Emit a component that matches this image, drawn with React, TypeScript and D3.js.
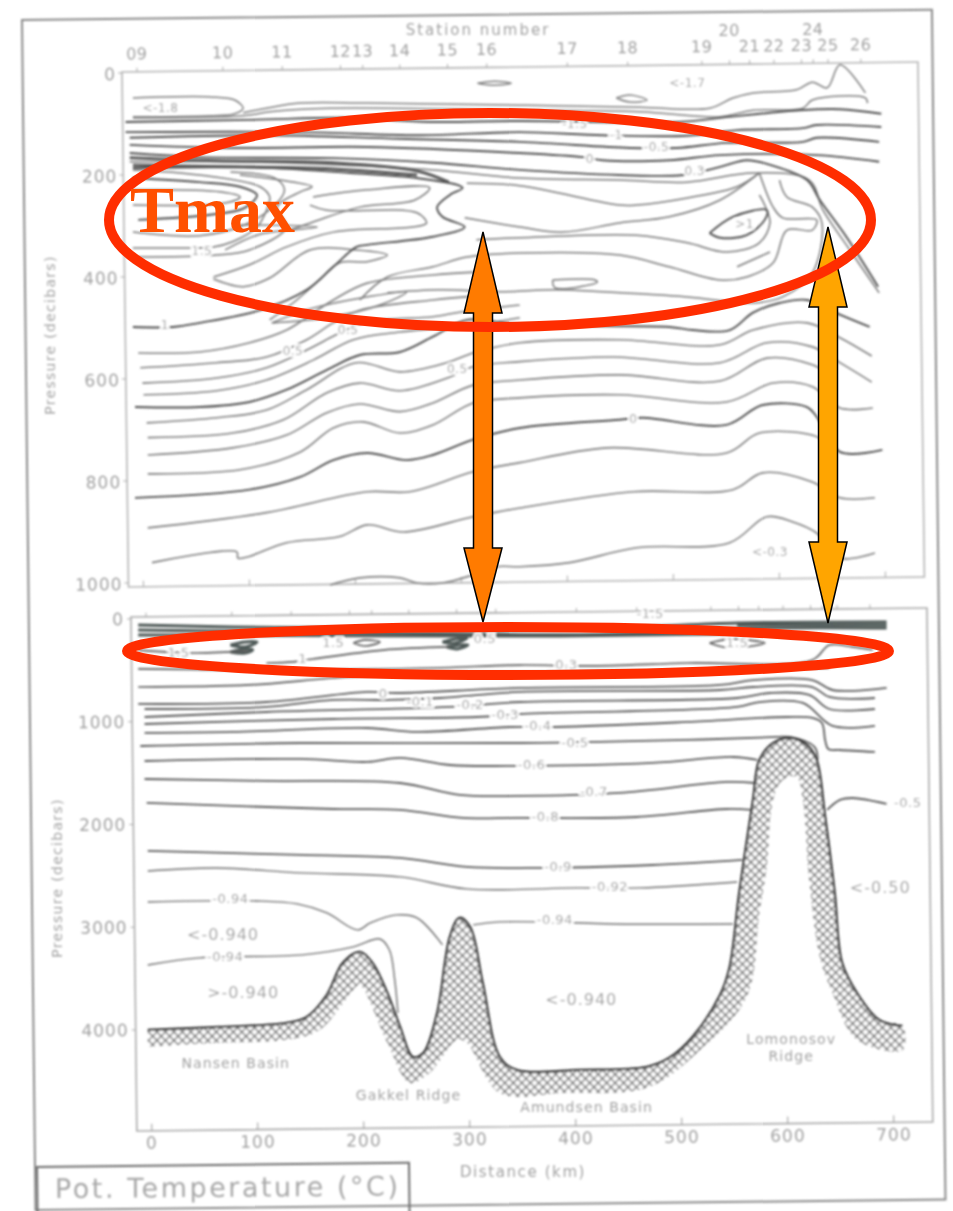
import React from 'react';
import * as d3 from 'd3';

type Pt = [number, number];

const kmTicks = [0, 100, 200, 300, 400, 500, 600, 700];
const topPressureTicks = [0, 200, 400, 600, 800, 1000];
const bottomPressureTicks = [0, 1000, 2000, 3000, 4000];
const stationNames = ['09', '10', '11', '12', '13', '14', '15', '16', '17', '18', '19', '20', '21', '22', '23', '24', '25', '26'];
const stationKm = [0, 81, 137, 192, 213, 248, 293, 330, 406, 463, 533, 559, 578, 601, 627, 638, 652, 683];

// upper panel, 0-1000 db
const topSurface: Pt[][] = [
  [[-18, 49], [55, 47], [78, 53], [86, 69], [78, 80], [55, 84], [-18, 86]],
  [[86, 78], [108, 69], [140, 59], [203, 59], [347, 63], [460, 67], [526, 69], [548, 49], [567, 39], [608, 33], [623, 18], [637, 29], [649, -16], [673, 39]],
  [[-18, 88], [86, 84], [111, 76], [168, 69], [347, 73], [460, 76], [536, 86], [567, 73], [614, 69], [623, 53], [673, 49], [675, 59]],
  [[307, 20], [323, 16], [339, 20], [323, 24], [307, 20]],
  [[438, 49], [451, 43], [467, 53], [451, 57], [438, 49]],
];
const topHeavy: Pt[][] = [
  [[-25, 96], [92, 92], [187, 88], [262, 96], [347, 94], [498, 96], [536, 88], [611, 73], [649, 71], [688, 80]],
  [[-25, 116], [140, 116], [253, 122], [347, 116], [425, 122], [505, 123], [552, 112], [614, 108], [627, 102], [688, 106]],
  [[-21, 127], [108, 122], [234, 129], [347, 135], [451, 147], [495, 147], [542, 137], [614, 135], [627, 127], [686, 135]],
  [[-21, 141], [76, 147], [203, 145], [347, 157], [406, 165], [425, 171], [488, 171], [536, 161], [627, 161], [686, 174]],
  [[-21, 157], [45, 165], [171, 167], [265, 176], [347, 190], [441, 200], [501, 200], [536, 184], [561, 171], [583, 180], [618, 210], [630, 249], [655, 321], [685, 419]],
  [[-18, 498], [20, 498], [45, 490], [102, 465], [146, 425], [171, 380], [193, 341], [203, 337], [265, 321], [295, 302], [274, 282], [269, 263], [281, 239], [293, 225], [250, 206], [187, 196], [108, 186], [-18, 180]],
  [[-18, 206], [45, 214], [83, 223], [99, 239], [87, 265], [55, 278], [-13, 288]],
  [[526, 314], [548, 282], [580, 269], [578, 288], [561, 318], [536, 323], [526, 314]],
  [[-16, 655], [45, 655], [92, 645], [127, 621], [165, 582], [196, 553], [234, 547], [265, 517], [297, 484], [347, 494], [488, 498], [510, 504], [545, 504], [567, 470], [592, 451], [618, 445], [649, 474], [677, 498]],
  [[-16, 833], [92, 817], [140, 792], [171, 759], [203, 745], [240, 759], [265, 749], [303, 719], [347, 696], [441, 680], [463, 676], [542, 690], [576, 651], [618, 655], [627, 674], [649, 743], [689, 739]],
];
// dark smear along the top of the warm layer, west of station 15
const topBandLeft: Pt[][] = [
  [[-21, 166], [60, 172], [171, 176], [250, 192], [280, 214]],
  [[-18, 186], [60, 184], [171, 188], [250, 200]],
];
const topTmax: Pt[][] = [
  [[-21, 174], [76, 174], [171, 180], [265, 190], [347, 206], [441, 210], [505, 214], [567, 196], [620, 210], [633, 269], [655, 337], [686, 431]],
  [[-18, 190], [45, 200], [102, 223], [111, 243], [108, 269], [99, 302], [76, 331], [58, 341], [29, 343], [-18, 343]],
  [[-18, 229], [64, 233], [83, 243], [69, 255], [-18, 259]],
  [[-18, 312], [45, 319], [87, 298], [116, 259], [125, 229], [116, 206], [74, 194]],
  [[-18, 361], [61, 357], [92, 347], [127, 302], [118, 263], [140, 233], [151, 223], [121, 210], [83, 200]],
  [[83, 298], [156, 302], [102, 316], [69, 347]],
  [[152, 243], [203, 229], [262, 225], [248, 249], [196, 263], [152, 292], [130, 308]],
  [[58, 400], [92, 376], [127, 341], [171, 312], [246, 302], [259, 294], [250, 274], [165, 269], [149, 259]],
  [[58, 404], [86, 419], [111, 402], [149, 347], [193, 347], [222, 357], [203, 370], [177, 372], [158, 406], [133, 451], [111, 484]],
  [[297, 216], [347, 221], [441, 259], [457, 259], [505, 245], [552, 223], [573, 196]],
  [[295, 284], [347, 302], [388, 312], [441, 294], [488, 282], [536, 249], [573, 196]],
  [[306, 327], [347, 323], [457, 318], [505, 333], [542, 351], [573, 333], [583, 294], [578, 259], [573, 239]],
  [[196, 445], [222, 400], [265, 380], [297, 361], [347, 353], [441, 357], [488, 380], [536, 406], [561, 400], [586, 372], [599, 308], [623, 308], [627, 288], [595, 284], [586, 263], [573, 196]],
  [[592, 210], [599, 243], [623, 263], [632, 294], [623, 392], [595, 439], [567, 451], [505, 439], [425, 429], [380, 425], [328, 429], [271, 425], [222, 431]],
  [[552, 380], [583, 351]],
  [[378, 406], [418, 406], [420, 410], [380, 421], [378, 406]],
  [[113, 490], [150, 462], [200, 440], [240, 430], [215, 455], [165, 480], [113, 490]],
];
const topDeep: Pt[][] = [
  [[-13, 549], [45, 547], [92, 529], [127, 504], [156, 465], [171, 445], [203, 412], [265, 396], [309, 390]],
  [[-11, 578], [61, 568], [108, 557], [146, 523], [171, 490], [196, 465], [265, 445], [309, 437]],
  [[-9, 608], [61, 598], [108, 578], [146, 543], [177, 510], [203, 488], [265, 478], [293, 468], [347, 455]],
  [[-8, 631], [61, 623], [108, 602], [152, 563], [190, 523], [234, 508], [303, 494], [347, 480]],
  [[-5, 686], [61, 676], [108, 661], [146, 621], [193, 568], [234, 586], [278, 568], [303, 549], [347, 529], [441, 523], [536, 533], [567, 504], [618, 490], [649, 519], [679, 555]],
  [[-4, 715], [76, 706], [124, 680], [165, 627], [196, 608], [234, 623], [281, 596], [303, 576], [347, 566], [435, 557], [536, 568], [580, 529], [623, 537], [649, 568], [679, 606]],
  [[-4, 749], [76, 735], [127, 710], [165, 666], [196, 649], [234, 664], [265, 647], [303, 612], [347, 602], [441, 592], [536, 604], [580, 559], [623, 572], [635, 586]],
  [[-4, 786], [83, 778], [140, 743], [171, 696], [199, 684], [234, 706], [265, 690], [303, 647], [347, 637], [441, 631], [542, 645], [586, 608], [623, 615], [649, 657], [680, 657]],
  [[-4, 892], [108, 862], [203, 821], [243, 821], [303, 782], [347, 764], [429, 735], [542, 745], [573, 706], [627, 713], [635, 729]],
  [[0, 960], [80, 939], [81, 951], [90, 949], [127, 921], [177, 909], [203, 886], [237, 900], [303, 870], [347, 853], [454, 821], [548, 817], [576, 784], [623, 802], [649, 833], [682, 833]],
  [[168, 1004], [196, 990], [234, 990], [250, 1000], [274, 1000], [303, 984], [325, 968], [347, 968], [394, 960], [457, 931], [545, 921], [580, 870], [604, 880], [627, 902], [649, 951], [682, 941]],
];

// lower panel, full depth
const bottomBands: Pt[][] = [
  [[-13, 58], [76, 78], [200, 90], [297, 107], [450, 80], [552, 39], [693, 29]],
  [[552, 60], [620, 58], [693, 58]],
  [[-13, 107], [140, 126], [297, 146], [420, 150], [583, 88], [693, 88]],
  [[-13, 156], [140, 160], [297, 165], [385, 165], [560, 140]],
  [[74, 253], [88, 224], [99, 224], [88, 272], [74, 253]],
  [[74, 321], [88, 292], [95, 302], [88, 331], [74, 321]],
  [[274, 224], [286, 195], [297, 185], [286, 234], [274, 224]],
  [[278, 272], [290, 253], [298, 253], [288, 292], [278, 272]],
];
const bottomUpper: Pt[][] = [
  [[190, 234], [201, 204], [215, 224], [201, 263], [190, 234]],
  [[526, 234], [545, 195], [578, 234], [545, 282], [526, 234]],
  [[-13, 302], [41, 331], [90, 311]],
  [[108, 428], [133, 418], [152, 389], [218, 302], [281, 272]],
  [[-13, 486], [140, 496], [265, 477], [347, 448], [410, 457], [505, 428], [623, 399], [639, 253], [661, 272], [680, 302]],
  [[-13, 662], [92, 642], [171, 574], [253, 525], [347, 516], [536, 496], [639, 477]],
];
const isothermZero: Pt[] = [[-13, 827], [108, 808], [203, 710], [231, 720], [347, 671], [536, 642], [567, 594], [623, 594], [642, 691], [693, 671]];
const isothermM01: Pt[] = [[-7, 876], [108, 856], [171, 788], [224, 788], [272, 769], [347, 710], [536, 691], [567, 662], [623, 662], [639, 759], [682, 769]];
const isothermM02: Pt[] = [[-7, 954], [108, 905], [281, 856], [347, 808], [552, 769], [583, 720], [620, 739], [639, 876], [682, 876]];
const isothermM03: Pt[] = [[-7, 1022], [171, 973], [306, 954], [350, 924], [552, 856], [573, 808], [614, 817], [642, 1041], [682, 1041]];
const isothermM04: Pt[] = [[-7, 1109], [76, 1099], [203, 1061], [250, 1099], [338, 1051], [382, 1051], [505, 1002], [599, 954], [623, 963], [632, 1012], [635, 1177], [638, 1265], [649, 1275], [682, 1294]];
const isothermM05: Pt[] = [[-11, 1236], [140, 1207], [347, 1207], [505, 1177], [589, 1148], [602, 1148], [625, 1245], [628, 1372]];
const isothermM06: Pt[] = [[-7, 1382], [140, 1362], [203, 1391], [234, 1352], [281, 1421], [335, 1430], [472, 1401], [548, 1343], [571, 1372]];
const isothermM07: Pt[] = [[-7, 1557], [108, 1576], [234, 1596], [290, 1712], [347, 1722], [441, 1693], [542, 1586], [569, 1596]];
const isothermM08: Pt[] = [[-5, 1790], [171, 1849], [234, 1858], [293, 1936], [344, 1936], [457, 1927], [542, 1849], [566, 1858]];
const isothermM05East: Pt[] = [[637, 1858], [649, 1761], [661, 1742], [693, 1800]];
const isothermM09: Pt[] = [[-4, 2257], [140, 2296], [234, 2325], [297, 2413], [356, 2423], [472, 2394], [557, 2345]];
const isothermM092: Pt[] = [[-4, 2452], [61, 2423], [140, 2471], [234, 2510], [297, 2627], [401, 2617], [460, 2617], [552, 2559]];
const isothermM094a: Pt[] = [[-4, 2754], [99, 2744], [137, 2773], [165, 2861], [194, 3026], [206, 2958], [231, 2880], [250, 2909], [274, 3172]];
const isothermM094b: Pt[] = [[-4, 3367], [45, 3298], [142, 3269], [190, 3191], [215, 3114], [224, 3221], [229, 3513], [232, 3834]];
const isothermM094c: Pt[] = [[303, 2977], [328, 2948], [406, 2958], [435, 2968], [548, 2968]];

const seafloor: Pt[] = [[-4, 3999], [64, 3970], [127, 3931], [146, 3873], [165, 3658], [180, 3347], [196, 3240], [208, 3347], [222, 3639], [234, 3970], [246, 4262], [256, 4223], [269, 3834], [281, 3094], [290, 2909], [300, 2997], [312, 3542], [328, 4262], [344, 4388], [404, 4388], [467, 4359], [488, 4271], [510, 4067], [536, 3658], [545, 3386], [554, 2666], [567, 1761], [573, 1372], [586, 1207], [602, 1158], [618, 1226], [627, 1372], [635, 1927], [644, 2666], [651, 3347], [665, 3639], [686, 3902], [708, 3960]];
const hatchLower: Pt[] = [[-4, 4164], [64, 4125], [127, 4096], [158, 3999], [190, 3610], [196, 3561], [222, 4125], [243, 4515], [262, 4417], [288, 4096], [297, 4125], [328, 4612], [388, 4612], [467, 4563], [514, 4223], [561, 3678], [573, 2861], [580, 2413], [586, 1761], [595, 1567], [608, 1537], [614, 1761], [620, 2540], [630, 3289], [642, 3639], [665, 4096], [708, 4194]];

const topLabels: [string, number, number][] = [
  ['<-1.8', 8, 69], ['<-1.7', 505, 20], ['-1.5', 399, 100], ['-1', 438, 122], ['-0.5', 476, 147], ['0', 413, 169],
  ['0.3', 512, 194], ['>1', 559, 298], ['1.5', 47, 350], ['1', 12, 496], ['0.5', 133, 547], ['0.5', 185, 504],
  ['0.5', 288, 582], ['0', 454, 680], ['<-0.3', 583, 941],
];
const bottomLabels: [string, number, number][] = [
  ['1.5', 25, 331], ['1.5', 171, 234], ['1', 142, 399], ['0.5', 314, 204], ['0.3', 391, 448], ['1.5', 552, 234],
  ['-1.5', 470, -39], ['0', 218, 730], ['-0.1', 253, 817], ['-0.2', 300, 837], ['-0.3', 333, 944], ['-0.4', 364, 1051],
  ['-0.5', 399, 1216], ['-0.6', 358, 1421], ['-0.7', 417, 1693], ['-0.8', 371, 1936], ['-0.5', 713, 1800], ['-0.9', 383, 2423],
  ['-0.92', 432, 2617], ['-0.94', 74, 2734], ['-0.94', 69, 3298], ['-0.94', 380, 2939],
];
const regionLabels: [string, number, number][] = [
  ['<-0.940', 67, 3085], ['>-0.940', 86, 3649], ['<-0.940', 405, 3717], ['<-0.50', 687, 2627],
];
const placeLabels: [string, number, number][] = [
  ['Nansen  Basin', 79, 4330], ['Gakkel  Ridge', 242, 4641], ['Amundsen  Basin', 410, 4758], ['Lomonosov', 603, 4096], ['Ridge', 603, 4262],
];

const INK = '#a2a2a2';
const FONT = '"DejaVu Sans", sans-serif';

// the page was scanned slightly crooked: contours are read as they lie on the
// page (xScan), the axes live in a tilted group with their own x scales
const xScan = d3.scaleLinear().domain([0, 700]).range([152, 894]);
const xFrameTop = d3.scaleLinear().domain([0, 700]).range([137, 879]);
const xFrameBottom = d3.scaleLinear().domain([0, 700]).range([146, 888]);
const yTop = d3.scaleLinear().domain([0, 1000]).range([73, 583]);
const yBottom = d3.scaleLinear().domain([0, 4000]).range([619, 1030]);

const topLine = d3.line<Pt>().x(d => xScan(d[0])).y(d => yTop(d[1])).curve(d3.curveCatmullRom.alpha(0.5));
const bottomLine = d3.line<Pt>().x(d => xScan(d[0])).y(d => yBottom(d[1])).curve(d3.curveCatmullRom.alpha(0.5));

function Lines({ lines, gen, stroke, width }: { lines: Pt[][]; gen: (p: Pt[]) => string | null; stroke: string; width: number }) {
  return (
    <g fill="none" stroke={stroke} strokeWidth={width} strokeLinejoin="round">
      {lines.map((p, i) => <path key={i} d={gen(p) || ''} />)}
    </g>
  );
}

function Label({ x, y, size = 13, children, spacing = 0.5, anchor = 'middle', gap = true }: any) {
  return (
    <text x={x} y={y} fontSize={size} fontFamily={FONT} fill={INK} textAnchor={anchor} dominantBaseline="middle"
      letterSpacing={spacing} stroke={gap ? '#fff' : 'none'} strokeWidth={gap ? 4 : 0} style={{ paintOrder: 'stroke' }}>
      {children}
    </text>
  );
}

export default function App() {
  const hatchOutline = bottomLine(seafloor.concat([...hatchLower].reverse()));
  const topFrame = { x: 122, y: 72, w: 796, h: 515 };
  const botFrame = { x: 131, y: 617, w: 796, h: 514 };
  const arrowWide = 19;
  const arrowShaft = 9.5;
  const arrow = (cx: number, top: number, neck1: number, neck2: number, bottom: number) =>
    `M${cx},${top}L${cx + arrowWide},${neck1}L${cx + arrowShaft},${neck1}L${cx + arrowShaft},${neck2}L${cx + arrowWide},${neck2}L${cx},${bottom}L${cx - arrowWide},${neck2}L${cx - arrowShaft},${neck2}L${cx - arrowShaft},${neck1}L${cx - arrowWide},${neck1}Z`;

  return (
    <svg width={953} height={1211} style={{ position: 'absolute', left: 0, top: 0, background: '#fff' }}>
      <defs>
        <filter id="scan" x="0" y="0" width="953" height="1211" filterUnits="userSpaceOnUse">
          <feGaussianBlur stdDeviation="0.8" />
        </filter>
        <pattern id="xhatch" width="6" height="6" patternUnits="userSpaceOnUse" patternTransform="rotate(45)">
          <rect width="6" height="6" fill="#fff" />
          <path d="M0,0H6M0,0V6" stroke="#666" strokeWidth="2.4" />
        </pattern>
      </defs>

      <g filter="url(#scan)">
        {/* page border and title box */}
        <g transform="rotate(-0.65 22 20)" fill="none" stroke="#8a8a8a" strokeWidth={2}>
          <rect x={22} y={20} width={910} height={1190} />
          <rect x={24} y={1167} width={372} height={60} stroke="#6d6d6d" />
        </g>
        <text x={55} y={1198} fontSize={27} fontFamily={FONT} fill="#a8a8a8" textLength={343} lengthAdjust="spacing"
          transform="rotate(-0.4 55 1198)">Pot. Temperature (°C)</text>

        {/* upper frame */}
        <g transform={`rotate(-0.72 ${topFrame.x} ${topFrame.y})`}>
          <rect x={topFrame.x} y={topFrame.y} width={topFrame.w} height={topFrame.h} fill="none" stroke="#b5b5b5" strokeWidth={1.6} />
          {stationKm.map((km, i) => (
            <g key={stationNames[i]}>
              <line x1={xFrameTop(km)} x2={xFrameTop(km)} y1={topFrame.y} y2={topFrame.y - 4} stroke="#aaa" />
              <Label x={xFrameTop(km)} y={stationNames[i] === '20' || stationNames[i] === '24' ? topFrame.y - 33 : topFrame.y - 17} size={16} gap={false}>{stationNames[i]}</Label>
            </g>
          ))}
          {kmTicks.map(km => (
            <line key={km} x1={xFrameTop(km)} x2={xFrameTop(km)} y1={topFrame.y + topFrame.h} y2={topFrame.y + topFrame.h - 6} stroke="#aaa" />
          ))}
          {topPressureTicks.map(p => (
            <g key={p}>
              <line x1={topFrame.x} x2={topFrame.x - 4} y1={yTop(p)} y2={yTop(p)} stroke="#aaa" />
              <Label x={topFrame.x - 6} y={yTop(p) + 2} size={17} anchor="end" gap={false} spacing={1}>{p}</Label>
            </g>
          ))}
        </g>
        <Label x={478} y={30} size={15} spacing={2} gap={false}>Station  number</Label>
        <text transform="translate(51,335) rotate(-90)" textAnchor="middle" dominantBaseline="middle" fontSize={14} fontFamily={FONT} fill={INK} letterSpacing={1.3}>Pressure (decibars)</text>

        {/* upper contours */}
        <Lines lines={topSurface} gen={topLine} stroke="#808080" width={1.5} />
        <Lines lines={topTmax} gen={topLine} stroke="#7a7a7a" width={1.5} />
        <Lines lines={topDeep} gen={topLine} stroke="#808080" width={1.6} />
        <Lines lines={topBandLeft} gen={topLine} stroke="#5c5c5c" width={3} />
        <Lines lines={topHeavy} gen={topLine} stroke="#505050" width={1.9} />
        {topLabels.map(([t, km, p], i) => <Label key={i} x={xScan(km)} y={yTop(p)} size={12}>{t}</Label>)}

        {/* lower frame */}
        <g transform={`rotate(-0.65 ${botFrame.x} ${botFrame.y})`}>
          <rect x={botFrame.x} y={botFrame.y} width={botFrame.w} height={botFrame.h} fill="none" stroke="#aaa" strokeWidth={1.6} />
          {stationKm.map(km => (
            <line key={km} x1={xFrameBottom(km)} x2={xFrameBottom(km)} y1={botFrame.y} y2={botFrame.y - 4} stroke="#aaa" />
          ))}
          {kmTicks.map(km => (
            <g key={km}>
              <line x1={xFrameBottom(km)} x2={xFrameBottom(km)} y1={botFrame.y + botFrame.h} y2={botFrame.y + botFrame.h - 7} stroke="#999" />
              <Label x={xFrameBottom(km)} y={botFrame.y + botFrame.h + 13} size={17} gap={false} spacing={1}>{km}</Label>
            </g>
          ))}
          {bottomPressureTicks.map(p => (
            <g key={p}>
              <line x1={botFrame.x} x2={botFrame.x - 4} y1={yBottom(p)} y2={yBottom(p)} stroke="#aaa" />
              <Label x={botFrame.x - 7} y={yBottom(p) + 1} size={17} anchor="end" gap={false} spacing={1}>{p}</Label>
            </g>
          ))}
        </g>
        <Label x={523} y={1172} size={15} spacing={1.6} gap={false}>Distance  (km)</Label>
        <text transform="translate(58,878) rotate(-90)" textAnchor="middle" dominantBaseline="middle" fontSize={14} fontFamily={FONT} fill={INK} letterSpacing={1.3}>Pressure (decibars)</text>

        {/* lower contours */}
        <path d={hatchOutline || ''} fill="url(#xhatch)" />
        <Lines lines={bottomBands} gen={bottomLine} stroke="#4f5a58" width={3} />
        <Lines lines={bottomUpper} gen={bottomLine} stroke="#5c5c5c" width={1.7} />
        <Lines
          lines={[isothermZero, isothermM01, isothermM02, isothermM03, isothermM04, isothermM05, isothermM06, isothermM07, isothermM08, isothermM05East, isothermM09]}
          gen={bottomLine} stroke="#5c5c5c" width={1.8} />
        <Lines lines={[isothermM092, isothermM094a, isothermM094b, isothermM094c]} gen={bottomLine} stroke="#707070" width={1.4} />
        <Lines lines={[seafloor]} gen={bottomLine} stroke="#3c3c3c" width={2.4} />
        {bottomLabels.map(([t, km, p], i) => <Label key={i} x={xScan(km)} y={yBottom(p)} size={13}>{t}</Label>)}
        {regionLabels.map(([t, km, p], i) => <Label key={i} x={xScan(km)} y={yBottom(p)} size={16} spacing={1}>{t}</Label>)}
        {placeLabels.map(([t, km, p], i) => <Label key={i} x={xScan(km)} y={yBottom(p)} size={14} spacing={1.1} gap={false}>{t}</Label>)}
      </g>

      {/* annotations added on top of the scan */}
      <path d={arrow(483, 232, 313, 548, 622)} fill="#ff7b00" stroke="#000" strokeWidth={1.5} />
      <path d={arrow(828, 227, 307, 542, 623)} fill="#ffa500" stroke="#000" strokeWidth={1.5} />
      <ellipse cx={490} cy={220} rx={381} ry={107} fill="none" stroke="#ff2d00" strokeWidth={10} />
      <ellipse cx={508} cy={651} rx={381} ry={24} fill="none" stroke="#ff2d00" strokeWidth={10} />
      <text x={130} y={232} fontSize={66} fontFamily='"Liberation Serif", serif' fontWeight="bold" fill="#ff5000">Tmax</text>
    </svg>
  );
}
